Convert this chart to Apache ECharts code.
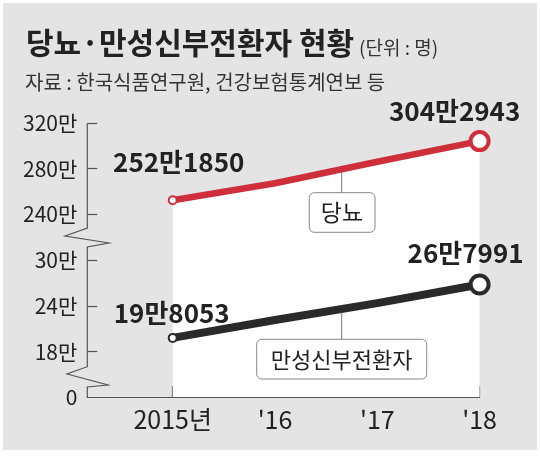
<!DOCTYPE html>
<html><head><meta charset="utf-8">
<script src="https://cdn.jsdelivr.net/npm/echarts@6/dist/echarts.min.js"></script>
<style>html,body{margin:0;padding:0;background:#fff}#c{width:540px;height:456px}</style>
</head><body><div id="c"></div>
<script>
// ---- data ----
const years = [2015, 2016, 2017, 2018];
const yearLabels = ['2015년', "'16", "'17", "'18"];
const seriesNames = ['당뇨', '만성신부전환자'];
const diabetes = [2521850, 2671000, 2861000, 3042943];
const ckd = [198053, 221500, 243500, 267991];
const diabetesLabels = ['252만1850', '', '', '304만2943'];
const ckdLabels = ['19만8053', '', '', '26만7991'];
const upperTicks = [2400000, 2800000, 3200000];
const lowerTicks = [180000, 240000, 300000];
const zeroTick = [0];
const titleText = '당뇨·만성신부전환자 현황';
const unitText = '(단위 : 명)';
const sourceText = '자료 : 한국식품연구원, 건강보험통계연보 등';

// ---- style ----
const NUM = "'Noto Sans CJK KR',sans-serif";
const KR = "'Noto Sans CJK KR',sans-serif";
const RED = '#cf2e3b', BLACK = '#2a2a2a', AXIS = '#555', TXT = '#222';
const labelOffsets = {
  red: [[6, -38], null, null, [-25, -30]],
  black: [[-1, -25], null, null, [-14, -31]]
};

function buildData(vals, labels, color, offs) {
  return vals.map((v, i) => {
    const last = i === vals.length - 1, first = i === 0;
    const item = { value: [years[i], v] };
    if (first || last) {
      item.symbol = 'circle';
      item.symbolSize = last ? 18 : 8;
      item.itemStyle = { color: '#fff', borderColor: color, borderWidth: last ? 4 : 2 };
      item.label = {
        show: true, position: 'inside', formatter: labels[i],
        offset: offs[i], align: 'center', verticalAlign: 'middle',
        fontFamily: NUM, fontWeight: 'bold', fontSize: 26, lineHeight: 28, color: TXT
      };
    } else {
      item.symbol = 'none';
    }
    return item;
  });
}

const man = v => (v / 10000) + '만';
function yAx(min, max, ticks, fmt, showTick) {
  return {
    type: 'value', position: 'left', min, max,
    axisLine: { show: false },
    splitLine: { show: false },
    axisTick: { show: showTick, inside: true, length: 10, customValues: ticks, lineStyle: { color: AXIS, width: 1.2 } },
    axisLabel: { customValues: ticks, formatter: fmt, margin: 10, fontFamily: NUM, fontSize: 21, color: TXT }
  };
}

const chart = echarts.init(document.getElementById('c'));
chart.setOption({
  animation: false,
  backgroundColor: '#fff',
  title: [
    { left: 26, top: 26.5, padding: 0, text: titleText,
      textStyle: { fontFamily: KR, fontWeight: 'bold', fontSize: 30, lineHeight: 32, color: TXT } },
    { left: 359, top: 37.5, padding: 0, text: unitText,
      textStyle: { fontFamily: KR, fontWeight: 'normal', fontSize: 19, lineHeight: 21, color: '#333' } },
    { left: 25, top: 70.5, padding: 0, text: sourceText,
      textStyle: { fontFamily: KR, fontWeight: 'normal', fontSize: 20, lineHeight: 24, color: '#333' } }
  ],
  grid: { left: 87.3, right: 60.4, top: 123.3, bottom: 59, outerBoundsMode: 'none' },
  xAxis: {
    type: 'value', min: 2014.165, max: 2018,
    splitLine: { show: false },
    axisLine: { show: true, lineStyle: { color: AXIS, width: 1.2 } },
    axisTick: { show: true, inside: true, length: 11, customValues: years, lineStyle: { color: AXIS, width: 1.2 } },
    axisLabel: { customValues: years, formatter: v => yearLabels[years.indexOf(Math.round(v))],
      margin: 10, fontFamily: NUM, fontSize: 25, color: TXT }
  },
  yAxis: [
    yAx(786000, 3200000, upperTicks, man, true),
    yAx(120700, 478900, lowerTicks, man, true),
    yAx(0, 1, zeroTick, v => '0', false)
  ],
  series: [
    { name: seriesNames[0], type: 'line', yAxisIndex: 0, z: 2, clip: false,
      data: buildData(diabetes, diabetesLabels, RED, labelOffsets.red),
      lineStyle: { color: RED, width: 6.5 }, itemStyle: { color: RED },
      areaStyle: { color: '#fff', opacity: 1, origin: 'start' } },
    { name: seriesNames[1], type: 'line', yAxisIndex: 1, z: 3, clip: false,
      data: buildData(ckd, ckdLabels, BLACK, labelOffsets.black),
      lineStyle: { color: BLACK, width: 8 }, itemStyle: { color: BLACK } }
  ],
  graphic: [
    { type: 'rect', z: -100, silent: true, shape: { x: 3, y: 3, width: 534, height: 447 }, style: { fill: '#e4e4e4' } },
    { type: 'polyline', z: 10, silent: true,
      shape: { points: [[87.3,123.3],[87.3,228],[65,236],[109,243],[87.3,247],[87.3,366.7],[67,374],[108,385],[87.3,387],[87.3,397.6]] },
      style: { stroke: AXIS, lineWidth: 1.2, fill: null } },
    // callout: 당뇨
    { type: 'line', z: 10, silent: true, shape: { x1: 341.7, y1: 172, x2: 341.7, y2: 192.7 }, style: { stroke: '#777', lineWidth: 1 } },
    { type: 'rect', z: 10, silent: true, shape: { x: 309.3, y: 192.7, width: 65.7, height: 39.6, r: 5 }, style: { fill: '#fff', stroke: '#888', lineWidth: 1 } },
    { type: 'text', z: 11, silent: true, x: 342, y: 212.5, style: { text: seriesNames[0], font: '23px ' + KR, fill: TXT, align: 'center', verticalAlign: 'middle' } },
    // callout: 만성신부전환자
    { type: 'line', z: 10, silent: true, shape: { x1: 341.7, y1: 312.5, x2: 341.7, y2: 339.3 }, style: { stroke: '#777', lineWidth: 1 } },
    { type: 'rect', z: 10, silent: true, shape: { x: 256.7, y: 339.3, width: 170, height: 39.7, r: 5 }, style: { fill: '#fff', stroke: '#888', lineWidth: 1 } },
    { type: 'text', z: 11, silent: true, x: 341.7, y: 359.2, style: { text: seriesNames[1], font: '22px ' + KR, fill: TXT, align: 'center', verticalAlign: 'middle' } }
  ]
});
</script></body></html>
